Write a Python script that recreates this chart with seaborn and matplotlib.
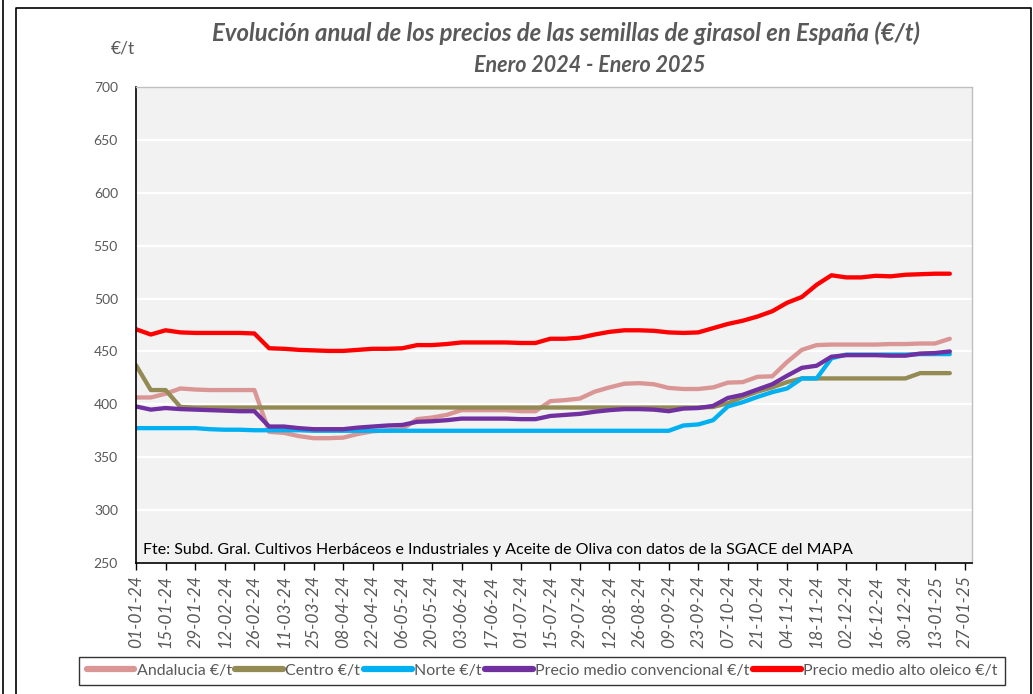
import matplotlib
matplotlib.use("Agg")
import matplotlib.pyplot as plt
import matplotlib.dates as mdates
from matplotlib.lines import Line2D
import numpy as np
import pandas as pd
import seaborn as sns

# ---------------- data ----------------
start_date = "2024-01-01"
n_weeks = 56

andalucia = [406.5, 406.5, 410, 415, 414, 413.5, 413.5, 413.5, 413.5, 374,
             373, 370, 368, 368, 368.5, 372, 374.5, 375.5, 376.5, 386,
             387.5, 390, 394.5, 394.5, 394.5, 394.5, 393.5, 393.5, 403, 404,
             405.5, 412, 416, 419.5, 420, 419, 415.5, 414.5, 414.5, 416,
             420.5, 421, 426, 426.5, 440, 451.5, 456, 456.5, 456.5, 456.5,
             456.5, 457, 457, 457.5, 457.5, 462]
centro = [437, 413.5, 413.5, 397.5, 397, 397, 397, 397, 397, 397,
          397, 397, 397, 397, 397, 397, 397, 397, 397, 397,
          397, 397, 397, 397, 397, 397, 397, 397, 397, 397,
          397, 397, 397, 397, 397, 397, 397, 397, 397, 397.5,
          401, 407, 412, 416, 421, 424.5, 424.5, 424.5, 424.5, 424.5,
          424.5, 424.5, 424.5, 429.5, 429.5, 429.5]
norte = [377.5, 377.5, 377.5, 377.5, 377.5, 376.5, 376, 376, 375.5, 375.5,
         375.5, 375.5, 375, 375, 375, 375, 375, 375, 375, 375,
         375, 375, 375, 375, 375, 375, 375, 375, 375, 375,
         375, 375, 375, 375, 375, 375, 375, 380, 381, 385,
         398, 402, 407, 411.5, 415, 424.5, 424.5, 443.5, 447, 447,
         447, 447, 447, 447.5, 447.5, 447.5]
convencional = [398, 395, 396.5, 395.5, 395, 394.5, 394, 393.5, 393.5, 379,
                379, 377.5, 376.5, 376.5, 376.5, 378, 379, 380, 380.5, 383.5,
                384, 385, 386.5, 386.5, 386.5, 386.5, 386, 386, 389, 390,
                391, 393, 394.5, 395.5, 395.5, 395, 393.5, 396, 396.5, 398.5,
                406, 409, 414, 419, 427, 434.5, 436.5, 445, 446.5, 446.5,
                446.5, 446, 446, 448, 448.5, 450]
alto_oleico = [471, 466, 470, 468, 467.5, 467.5, 467.5, 467.5, 467, 453,
               452.5, 451.5, 451, 450.5, 450.5, 451.5, 452.5, 452.5, 453, 456,
               456, 457, 458.5, 458.5, 458.5, 458.5, 458, 458, 462, 462,
               463, 466, 468.5, 470, 470, 469.5, 468, 467.5, 468, 472,
               476, 479, 483, 488, 496, 501.5, 513, 522, 520, 520,
               521.5, 521, 522.5, 523, 523.5, 523.5]

series_names = ["Andalucia €/t", "Centro €/t", "Norte €/t",
                "Precio medio convencional €/t", "Precio medio alto oleico €/t"]
series_values = [andalucia, centro, norte, convencional, alto_oleico]
series_colors = ["#d99694", "#948a54", "#00b0f0", "#7030a0", "#ff0000"]

y_ticks = [250, 300, 350, 400, 450, 500, 550, 600, 650, 700]
x_tick_start = "2024-01-01"
x_tick_end = "2025-01-27"

title_1 = "Evolución anual de los precios de las semillas de girasol en España (€/t)"
title_2 = "Enero 2024 - Enero 2025"
unit_label = "€/t"
source_text = ("Fte: Subd. Gral. Cultivos Herbáceos e Industriales y Aceite de Oliva "
               "con datos de la SGACE del MAPA")

# ---------------- frame ----------------
dates = pd.date_range(start_date, periods=n_weeks, freq="7D")
df = pd.concat(
    [pd.DataFrame({"fecha": dates, "precio": vals, "serie": name})
     for name, vals in zip(series_names, series_values)],
    ignore_index=True,
)

sns.set_theme(style="white")
plt.rcParams["font.family"] = ["Lato", "DejaVu Sans"]

W, H = 1033, 694
fig = plt.figure(figsize=(W / 100, H / 100), dpi=100)
fig.patch.set_facecolor("white")

ax = fig.add_axes([136 / W, 1 - 563 / H, (972 - 136) / W, (563 - 87) / H])
ax.set_facecolor("#f2f2f2")

sns.lineplot(data=df, x="fecha", y="precio", hue="serie",
             hue_order=series_names, palette=series_colors,
             linewidth=3.1, ax=ax, legend=False)

x0 = mdates.date2num(pd.Timestamp(start_date))
ax.set_xlim(x0, x0 + 395.5)
ax.set_ylim(250, 700)
ax.set_yticks(y_ticks)
ax.yaxis.grid(True, color="white", linewidth=1.6)
ax.xaxis.grid(False)
ax.set_axisbelow(True)

xt = pd.date_range(x_tick_start, x_tick_end, freq="14D")
ax.set_xticks(mdates.date2num(xt))
ax.xaxis.set_major_formatter(mdates.DateFormatter("%d-%m-%y"))
ax.tick_params(axis="x", direction="out", length=5, width=1, color="black",
               labelsize=12.5, labelcolor="#595959", rotation=90, pad=4, bottom=True)
for lbl in ax.get_xticklabels():
    lbl.set_fontstyle("italic")
ax.tick_params(axis="y", length=0, labelsize=10, labelcolor="#595959", pad=13)
ax.set_xlabel("")
ax.set_ylabel("")

for side in ["top", "right"]:
    ax.spines[side].set_color("#bfbfbf")
    ax.spines[side].set_linewidth(1)
for side in ["left", "bottom"]:
    ax.spines[side].set_color("black")
    ax.spines[side].set_linewidth(1.2)

ax.text(0.008, 0.028, source_text, transform=ax.transAxes, fontsize=11.5,
        color="black", ha="left", va="center")

fig.text(566 / W, 1 - 33 / H, title_1, ha="center", va="center", fontsize=17.2,
         fontweight="bold", fontstyle="italic", color="#595959")
fig.text(590 / W, 1 - 65 / H, title_2, ha="center", va="center", fontsize=15.5,
         fontweight="bold", fontstyle="italic", color="#595959")
fig.text(123 / W, 1 - 48 / H, unit_label, ha="center", va="center",
         fontsize=12.5, color="#595959")

handles = [Line2D([0], [0], color=c, linewidth=4.5) for c in series_colors]
leg = fig.legend(handles, series_names, loc="center", ncol=5,
                 bbox_to_anchor=(542 / W, 1 - 671 / H), frameon=True,
                 fontsize=11.5, handlelength=3.0, handletextpad=0.15,
                 columnspacing=0.2, borderpad=0.45, fancybox=False,
                 labelcolor="#595959")
leg.get_frame().set_edgecolor("black")
leg.get_frame().set_linewidth(1)

# outer frame lines
fig.add_artist(Line2D([3 / W, 3 / W], [0, 1], color="black", linewidth=1.2,
                      transform=fig.transFigure))
fig.add_artist(Line2D([16 / W, 16 / W, 1031 / W, 1031 / W],
                      [0, 1 - 8 / H, 1 - 8 / H, 0], color="black",
                      linewidth=1.2, transform=fig.transFigure))

fig.savefig("out.png", dpi=100)
